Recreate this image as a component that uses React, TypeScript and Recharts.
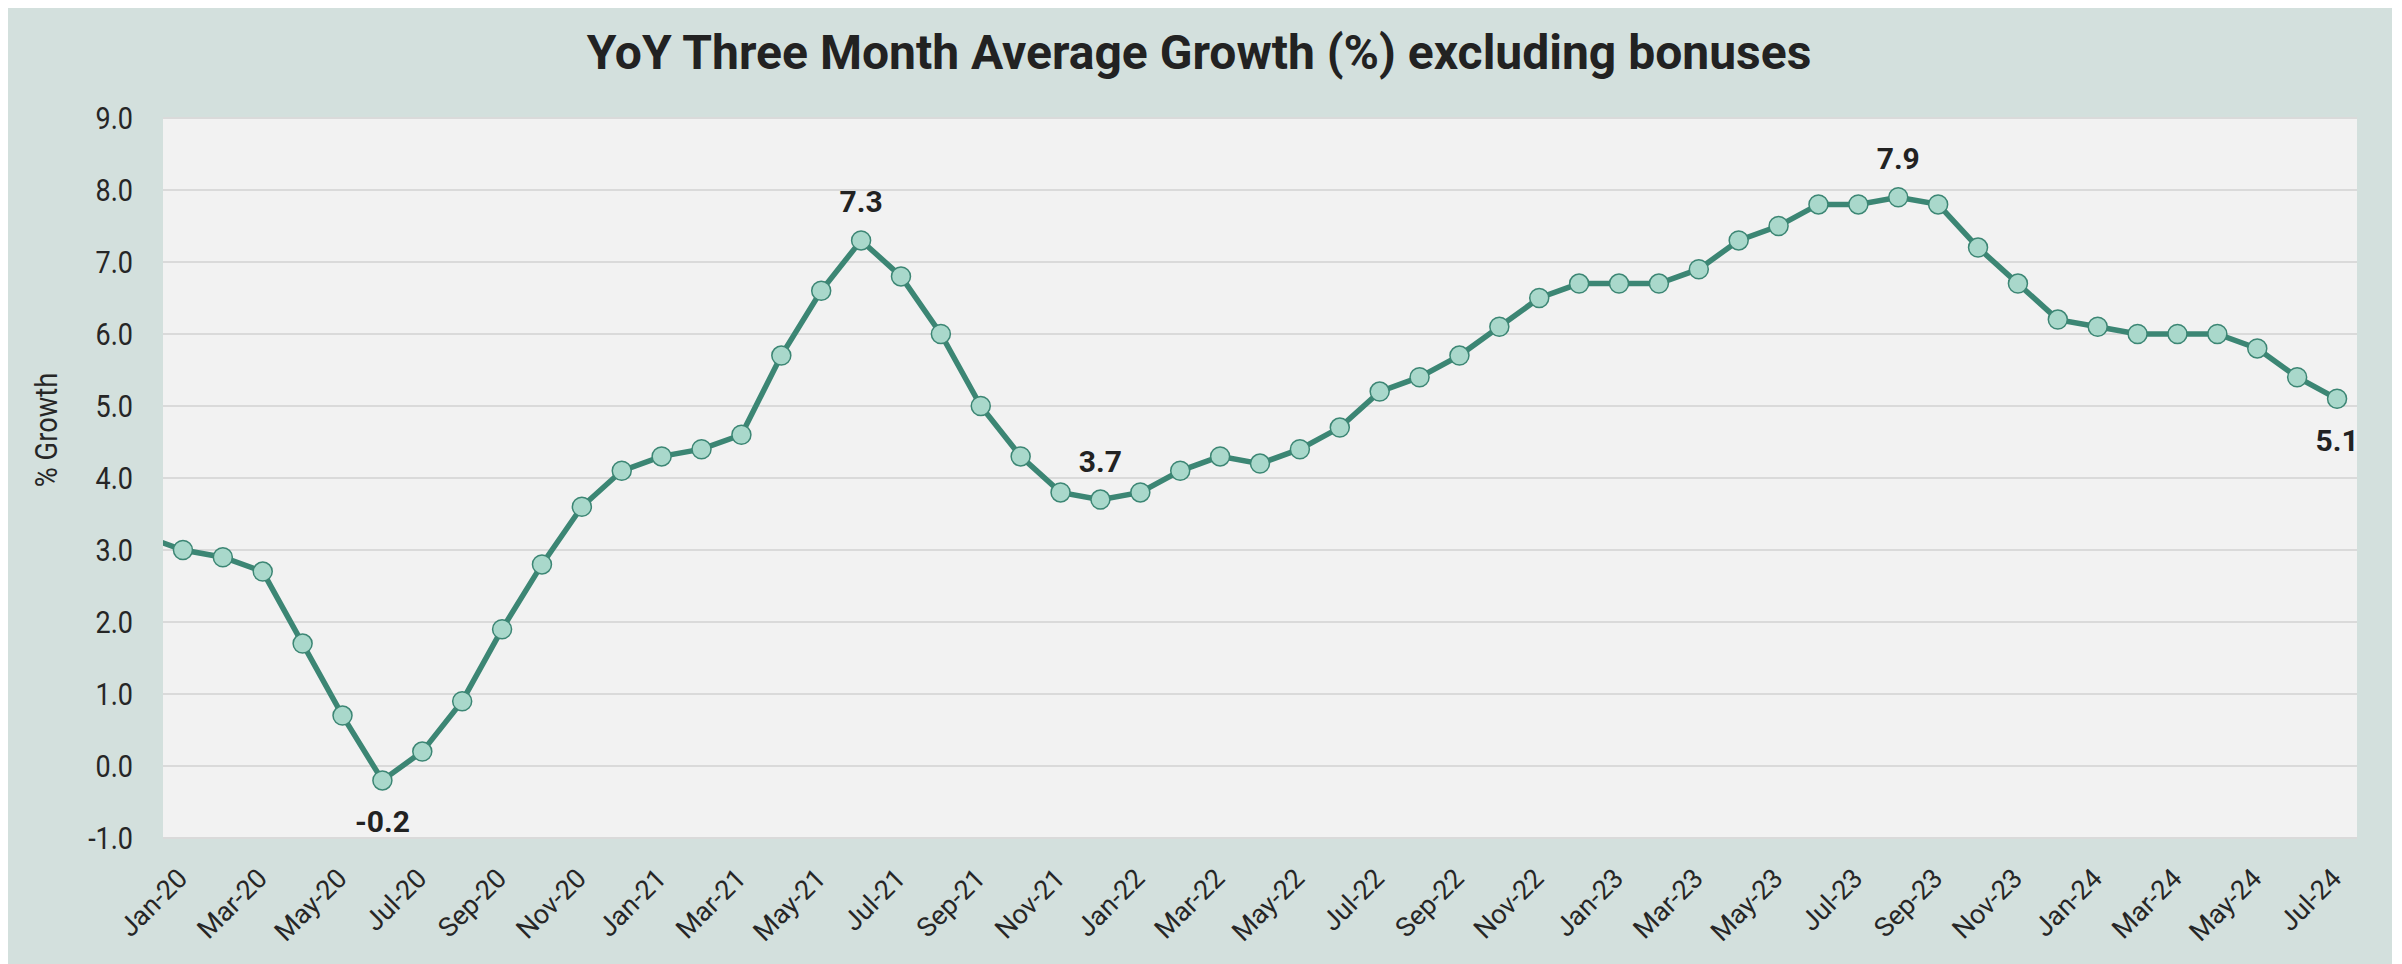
import React from "react";
import { LineChart, Line, XAxis, YAxis, CartesianGrid, LabelList } from "recharts";

// Monthly categories (Dec-19 is only used for the line entering from the left edge)
const months = [
  "Dec-19",
  "Jan-20", "Feb-20", "Mar-20", "Apr-20", "May-20", "Jun-20", "Jul-20", "Aug-20", "Sep-20", "Oct-20", "Nov-20", "Dec-20",
  "Jan-21", "Feb-21", "Mar-21", "Apr-21", "May-21", "Jun-21", "Jul-21", "Aug-21", "Sep-21", "Oct-21", "Nov-21", "Dec-21",
  "Jan-22", "Feb-22", "Mar-22", "Apr-22", "May-22", "Jun-22", "Jul-22", "Aug-22", "Sep-22", "Oct-22", "Nov-22", "Dec-22",
  "Jan-23", "Feb-23", "Mar-23", "Apr-23", "May-23", "Jun-23", "Jul-23", "Aug-23", "Sep-23", "Oct-23", "Nov-23", "Dec-23",
  "Jan-24", "Feb-24", "Mar-24", "Apr-24", "May-24", "Jun-24", "Jul-24",
];

// YoY three month average growth (%) excluding bonuses
const growth = [
  3.2,
  3.0, 2.9, 2.7, 1.7, 0.7, -0.2, 0.2, 0.9, 1.9, 2.8, 3.6, 4.1,
  4.3, 4.4, 4.6, 5.7, 6.6, 7.3, 6.8, 6.0, 5.0, 4.3, 3.8, 3.7,
  3.8, 4.1, 4.3, 4.2, 4.4, 4.7, 5.2, 5.4, 5.7, 6.1, 6.5, 6.7,
  6.7, 6.7, 6.9, 7.3, 7.5, 7.8, 7.8, 7.9, 7.8, 7.2, 6.7, 6.2,
  6.1, 6.0, 6.0, 6.0, 5.8, 5.4, 5.1,
];

const tickLabels = [
  "Jan-20", "Mar-20", "May-20", "Jul-20", "Sep-20", "Nov-20",
  "Jan-21", "Mar-21", "May-21", "Jul-21", "Sep-21", "Nov-21",
  "Jan-22", "Mar-22", "May-22", "Jul-22", "Sep-22", "Nov-22",
  "Jan-23", "Mar-23", "May-23", "Jul-23", "Sep-23", "Nov-23",
  "Jan-24", "Mar-24", "May-24", "Jul-24",
];

const yTicks = [-1, 0, 1, 2, 3, 4, 5, 6, 7, 8, 9];

const labelAbove = ["Jun-21", "Dec-21", "Aug-23"];
const labelBelow = ["Jun-20", "Jul-24"];

const data = months.map((m, i) => ({ idx: i - 1, month: m, value: growth[i] }));
const xTicks = tickLabels.map((l) => months.indexOf(l) - 1);

const FONT = "Roboto, 'Noto Sans', sans-serif";
const LINE = "#3C8674";
const DOT = "#A9D8CB";
const PANEL = "#D3E0DD";

const XTick = (props: any) => {
  const { x, y, payload } = props;
  const label = months[payload.value + 1];
  return (
    <g transform={`translate(${x},${y})`}>
      <text
        x={6}
        y={42}
        transform="rotate(-45 6 42)"
        textAnchor="end"
        fontSize={27}
        fill="#262626"
        fontFamily={FONT}
      >
        {label}
      </text>
    </g>
  );
};

const YTick = (props: any) => {
  const { x, y, payload } = props;
  return (
    <g transform={`translate(${x},${y}) scale(0.87,1)`}>
      <text x={0} y={0} dy="0.355em" textAnchor="end" fontSize={31} fill="#262626" fontFamily={FONT}>
        {Number(payload.value).toFixed(1)}
      </text>
    </g>
  );
};

const renderDot = (p: any) => {
  if (p.payload.idx < 0) return <g key={`dot-${p.index}`} />;
  return (
    <circle
      key={`dot-${p.index}`}
      cx={p.cx}
      cy={p.cy}
      r={9.5}
      fill={DOT}
      stroke={LINE}
      strokeWidth={1.5}
    />
  );
};

const renderLabel = (p: any) => {
  const m = months[p.index];
  const above = labelAbove.includes(m);
  const below = labelBelow.includes(m);
  if (!above && !below) return null;
  return (
    <text
      x={p.x}
      y={above ? p.y - 28 : p.y + 52}
      textAnchor="middle"
      fontSize={30}
      fontWeight={700}
      fill="#222222"
      fontFamily={FONT}
    >
      {Number(p.value).toFixed(1)}
    </text>
  );
};

export default function App() {
  return (
    <div
      style={{
        position: "relative",
        width: 2386,
        height: 961,
        margin: "-5px 0 0 -2px",
        background: PANEL,
        fontFamily: FONT,
      }}
    >
      <div
        style={{
          position: "absolute",
          left: 0,
          top: 26,
          width: 2386,
          textAlign: "center",
          fontSize: 48,
          lineHeight: "48px",
          fontWeight: 700,
          color: "#222222",
          whiteSpace: "nowrap",
        }}
      >
        YoY Three Month Average Growth (%) excluding bonuses
      </div>
      <div
        style={{
          position: "absolute",
          left: 40,
          top: 427,
          transform: "translate(-50%,-50%) rotate(-90deg) scale(0.88,1)",
          fontSize: 31,
          lineHeight: 1,
          color: "#262626",
          whiteSpace: "nowrap",
        }}
      >
        % Growth
      </div>
      <div style={{ position: "absolute", left: 0, top: 0 }}>
        <LineChart
          width={2386}
          height={961}
          data={data}
          margin={{ top: 115, right: 35, left: 0, bottom: 0 }}
        >
          <CartesianGrid vertical={false} stroke="#DADADA" strokeWidth={2} fill="#F2F2F2" />
          <XAxis
            type="number"
            dataKey="idx"
            domain={[-0.5, 54.5]}
            ticks={xTicks}
            interval={0}
            allowDataOverflow
            axisLine={false}
            tickLine={false}
            tickSize={0}
            tickMargin={0}
            height={126}
            tick={<XTick />}
          />
          <YAxis
            type="number"
            domain={[-1, 9]}
            ticks={yTicks}
            interval={0}
            allowDataOverflow
            axisLine={false}
            tickLine={false}
            tickSize={0}
            tickMargin={30}
            width={157}
            tick={<YTick />}
          />
          <Line
            type="linear"
            dataKey="value"
            stroke={LINE}
            strokeWidth={5.5}
            dot={renderDot}
            activeDot={false}
            isAnimationActive={false}
          >
            <LabelList dataKey="value" content={renderLabel} />
          </Line>
        </LineChart>
      </div>
    </div>
  );
}
